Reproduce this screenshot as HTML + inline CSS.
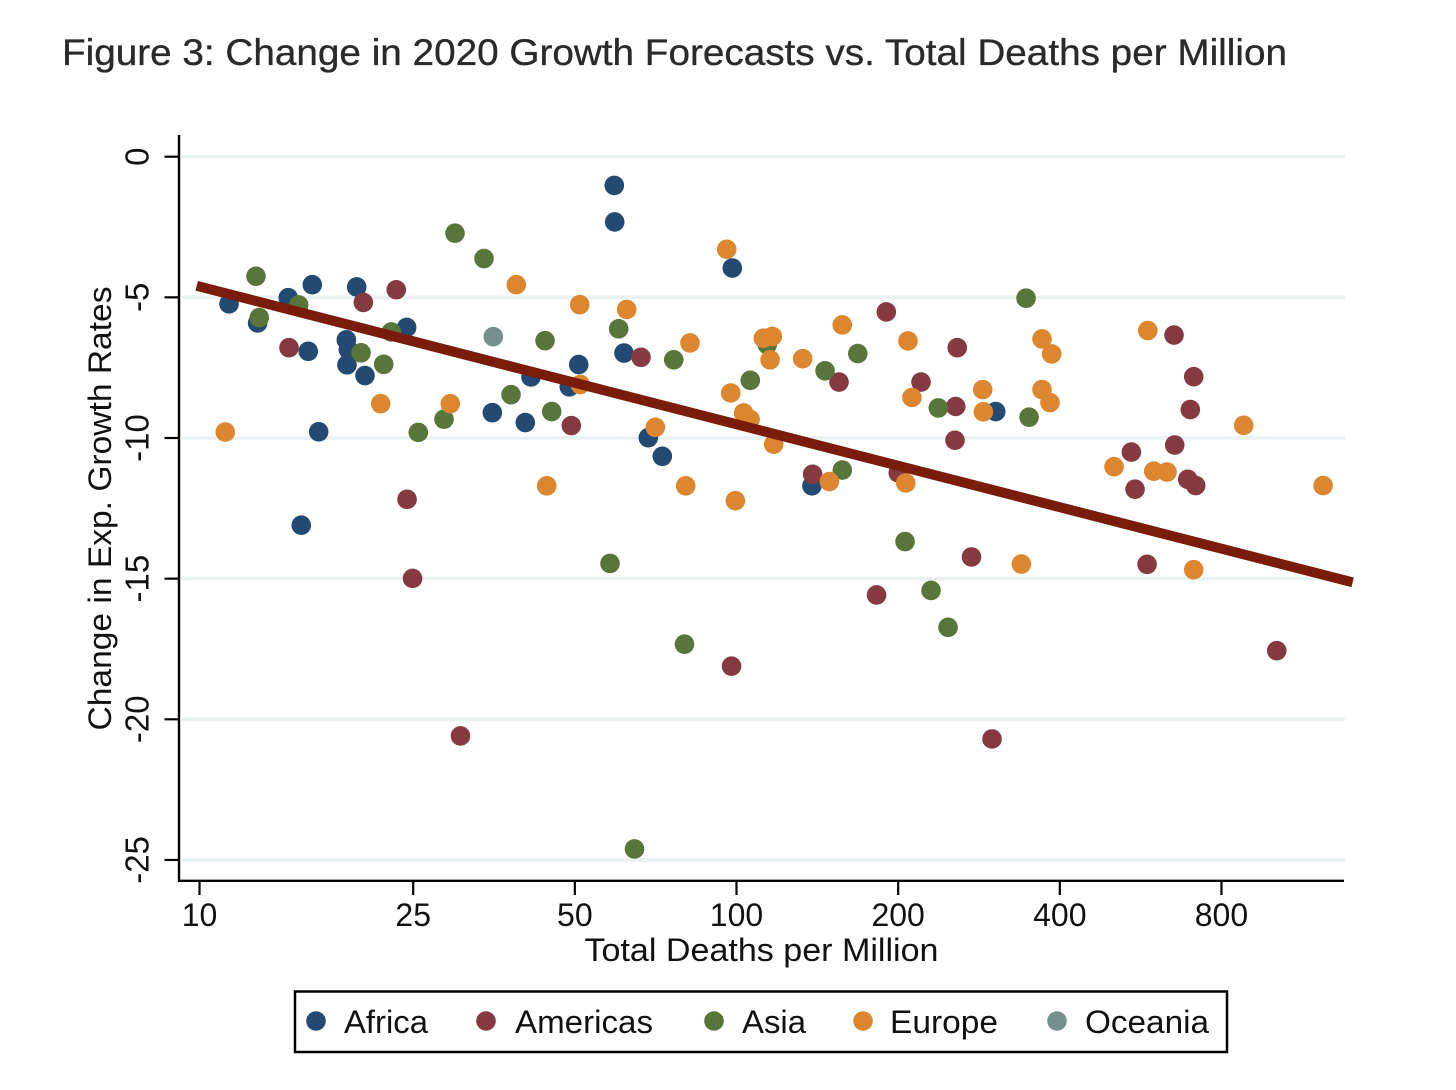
<!DOCTYPE html>
<html lang="en">
<head>
<meta charset="utf-8">
<title>Figure 3</title>
<style>
html,body{margin:0;padding:0;background:#fff;}
svg{display:block;}
text{font-family:"Liberation Sans",Arial,sans-serif;fill:#111;}
</style>
</head>
<body>
<svg id="chart" xmlns="http://www.w3.org/2000/svg" width="1456" height="1090" viewBox="0 0 1456 1090">
  <rect x="0" y="0" width="1456" height="1090" fill="#ffffff"/>
  <text x="62" y="65" font-size="37" textLength="1225" lengthAdjust="spacingAndGlyphs" style="fill:#2a2a2a;stroke:#2a2a2a;stroke-width:0.35">Figure 3: Change in 2020 Growth Forecasts vs. Total Deaths per Million</text>
  <g id="grid"></g>
  <g id="marks"></g>
  <g id="fit"></g>
  <g id="axes"></g>
  <text x="761.5" y="961" font-size="32" text-anchor="middle" textLength="354" lengthAdjust="spacingAndGlyphs">Total Deaths per Million</text>
  <text transform="translate(111,508.5) rotate(-90)" font-size="32" text-anchor="middle" textLength="444" lengthAdjust="spacingAndGlyphs">Change in Exp. Growth Rates</text>
  <g>
    <rect x="295" y="991.5" width="932" height="60.5" fill="#fff" stroke="#000" stroke-width="2.5"/>
    <circle cx="316" cy="1021" r="9.8" fill="#234a73"/>
    <text x="344" y="1033" font-size="32" textLength="84" lengthAdjust="spacingAndGlyphs">Africa</text>
    <circle cx="486" cy="1021" r="9.8" fill="#843a40"/>
    <text x="515" y="1033" font-size="32" textLength="138" lengthAdjust="spacingAndGlyphs">Americas</text>
    <circle cx="714" cy="1021" r="9.8" fill="#59763a"/>
    <text x="742" y="1033" font-size="32" textLength="64" lengthAdjust="spacingAndGlyphs">Asia</text>
    <circle cx="863" cy="1021" r="9.8" fill="#dc862f"/>
    <text x="890" y="1033" font-size="32" textLength="108" lengthAdjust="spacingAndGlyphs">Europe</text>
    <circle cx="1057" cy="1021" r="9.8" fill="#75908a"/>
    <text x="1085" y="1033" font-size="32" textLength="124" lengthAdjust="spacingAndGlyphs">Oceania</text>
  </g>
</svg>
<script>
const xTicks = [10, 25, 50, 100, 200, 400, 800];
const yTicks = [0, -5, -10, -15, -20, -25];

const africaDeaths = [11.35,12.83,14.63,16.22,19.62,15.94,18.77,18.93,18.82,20.33,24.31,16.67,15.47,35.10,40.43,41.43,48.82,50.84,59.22,59.32,98.22,61.73,68.51,72.75,138.2,303.9];
const africaGrowth = [-5.23,-5.91,-5.01,-4.55,-4.63,-6.92,-6.51,-6.86,-7.40,-7.78,-6.07,-9.78,-13.10,-9.10,-9.45,-7.83,-8.18,-7.39,-1.02,-2.32,-3.96,-6.98,-9.99,-10.65,-11.70,-9.06];

const americasDeaths = [14.68,20.19,23.25,24.35,49.25,24.93,30.62,66.40,190.1,257.7,220.6,155.2,256.0,255.2,138.6,200.1,97.89,182.3,273.9,299.1,652.8,710.3,700.0,654.7,543.6,552.3,692.3,716.4,581.5,1014];
const americasGrowth = [-6.79,-5.18,-4.73,-12.18,-9.56,-14.99,-20.59,-7.13,-5.52,-6.79,-8.01,-8.01,-8.88,-10.08,-11.29,-11.24,-18.11,-15.58,-14.23,-20.70,-6.34,-7.82,-8.99,-10.25,-10.50,-11.82,-11.47,-11.69,-14.49,-17.56];

const asiaDeaths = [12.74,12.92,15.30,19.99,22.03,22.76,29.91,33.87,25.55,28.53,38.03,44.00,45.28,60.34,76.40,106.1,114.1,146.2,168.2,237.6,157.4,346.1,350.6,58.14,80.02,206.0,230.3,247.7,64.58];
const asiaGrowth = [-4.25,-5.72,-5.27,-6.97,-7.38,-6.23,-2.72,-3.62,-9.80,-9.33,-8.46,-6.54,-9.06,-6.12,-7.22,-7.95,-6.68,-7.61,-7.00,-8.93,-11.14,-5.03,-9.26,-14.46,-17.33,-13.68,-15.42,-16.73,-24.61];

const europeDeaths = [11.17,21.75,29.31,38.90,51.06,44.32,51.19,62.45,81.93,95.89,112.2,116.6,115.5,132.8,157.4,208.6,97.55,103.1,106.0,117.3,70.60,80.43,99.50,148.9,206.6,212.2,287.4,288.2,370.6,386.3,370.6,383.5,339.2,583.2,504.7,598.4,633.5,880.1,1237,710.3];
const europeGrowth = [-9.79,-8.78,-8.78,-4.55,-5.26,-11.70,-8.10,-5.43,-6.62,-3.29,-6.45,-6.39,-7.22,-7.18,-5.98,-6.55,-8.40,-9.11,-9.34,-10.22,-9.62,-11.70,-12.23,-11.55,-11.60,-8.56,-8.28,-9.07,-6.48,-7.01,-8.28,-8.74,-14.48,-6.18,-11.02,-11.18,-11.21,-9.55,-11.69,-14.68];

const oceaniaDeaths = [35.25];
const oceaniaGrowth = [-6.40];

const fitDeaths = [9.88, 1404];
const fitGrowth = [-4.59, -15.13];

const NS = 'http://www.w3.org/2000/svg';
function xScale(v) { return 199.5 + 537 * Math.log10(v / 10); }
function yScale(v) { return 156.7 - 28.13 * v; }
function make(tag, attrs, parent) {
  const el = document.createElementNS(NS, tag);
  for (const k in attrs) el.setAttribute(k, attrs[k]);
  parent.appendChild(el);
  return el;
}

const gridG = document.getElementById('grid');
const marksG = document.getElementById('marks');
const fitG = document.getElementById('fit');
const axesG = document.getElementById('axes');

yTicks.forEach(function (t) {
  const line = make('line', {x1: 181.5, x2: 1345, y1: yScale(t), y2: yScale(t), stroke: '#e9f1f2', 'stroke-width': 3.6}, gridG);
  
  
});

function drawSeries(name, color, xs, ys) {
  xs.forEach(function (x, i) {
    const c = make('circle', {cx: xScale(x), cy: yScale(ys[i]), r: 9.8, fill: color}, marksG);
    
    
  });
}
drawSeries('africa', '#234a73', africaDeaths, africaGrowth);
drawSeries('americas', '#843a40', americasDeaths, americasGrowth);
drawSeries('asia', '#59763a', asiaDeaths, asiaGrowth);
drawSeries('europe', '#dc862f', europeDeaths, europeGrowth);
drawSeries('oceania', '#75908a', oceaniaDeaths, oceaniaGrowth);

const fitLine = make('line', {x1: xScale(fitDeaths[0]), y1: yScale(fitGrowth[0]), x2: xScale(fitDeaths[1]), y2: yScale(fitGrowth[1]), stroke: '#7a1c0a', 'stroke-width': 10}, fitG);



const yAxisLine = make('line', {x1: 179, x2: 179, y1: 135, y2: 882, stroke: '#000', 'stroke-width': 2.4}, axesG);



const xAxisLine = make('line', {x1: 178, x2: 1344, y1: 880.8, y2: 880.8, stroke: '#000', 'stroke-width': 2.4}, axesG);



yTicks.forEach(function (t) {
  const y = yScale(t);
  const tick = make('line', {x1: 164.5, x2: 179, y1: y, y2: y, stroke: '#000', 'stroke-width': 2.2}, axesG);
  
  
  const label = make('text', {transform: 'translate(148.5,' + y + ') rotate(-90)', 'font-size': 33, 'text-anchor': 'middle'}, axesG);
  label.textContent = String(t);
  
  
});

xTicks.forEach(function (t) {
  const x = xScale(t);
  const tick = make('line', {x1: x, x2: x, y1: 881, y2: 895, stroke: '#000', 'stroke-width': 2.2}, axesG);
  
  
  const label = make('text', {x: x, y: 926, 'font-size': 32, 'text-anchor': 'middle'}, axesG);
  label.textContent = String(t);
  
  
});
</script>
</body>
</html>
